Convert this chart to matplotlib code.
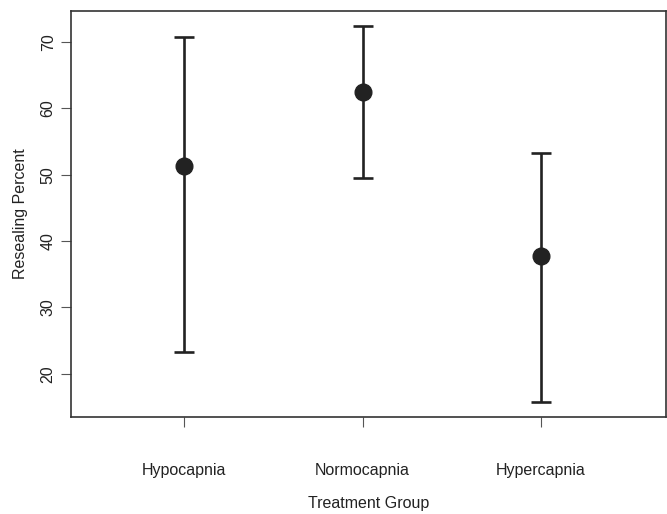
import numpy as np
import matplotlib.pyplot as plt

plt.rcParams['font.family'] = ['Liberation Sans', 'DejaVu Sans']

groups = ["Hypocapnia", "Normocapnia", "Hypercapnia"]
means = [51.3, 62.5, 37.7]
upper = [70.8, 72.4, 53.3]
lower = [23.3, 49.5, 15.8]

x = np.arange(1, len(groups) + 1)
means_arr = np.array(means)
yerr = [means_arr - np.array(lower), np.array(upper) - means_arr]

fig = plt.figure(figsize=(6.67, 5.14), dpi=100)
ax = fig.add_axes([71 / 667, 1 - 417 / 514, 595 / 667, 406 / 514])

col = "#222222"
ax.errorbar(x, means, yerr=yerr, fmt="o", color=col, ecolor=col,
            elinewidth=1.9, capsize=7.5, capthick=1.9, markersize=12)

ax.set_xlim(0.367, 3.70)
ax.set_ylim(13.5, 74.67)
ax.set_yticks([20, 30, 40, 50, 60, 70])
ax.set_xticks(x)
ax.set_xticklabels(groups)

for s in ax.spines.values():
    s.set_color("#333333")
    s.set_linewidth(1.2)

ax.tick_params(axis="x", length=7, color="#555555", pad=26, labelsize=11.5, labelcolor="#222222")
ax.tick_params(axis="y", length=7, color="#555555", pad=4, labelsize=11.5, labelcolor="#222222")
for lab in ax.get_yticklabels():
    lab.set_rotation(90)
    lab.set_verticalalignment("center")

ax.set_xlabel("Treatment Group", fontsize=11.5, color="#222222", labelpad=13)
ax.set_ylabel("Resealing Percent", fontsize=11.5, color="#222222", labelpad=9)

fig.savefig("out.png", dpi=100)
